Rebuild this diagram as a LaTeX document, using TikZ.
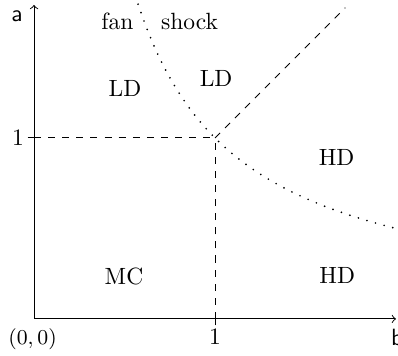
\documentclass[tikz,border=0pt]{standalone}
\begin{document}
\begin{tikzpicture}[x=77pt,y=77pt,
  lbl/.style={inner sep=0pt},
  axlbl/.style={inner sep=0pt,font=\sffamily},
  guide/.style={dashed},
  curve/.style={line width=0.8pt,line cap=round,dash pattern=on 0pt off 3.8pt}]
\useasboundingbox (-0.188,-0.204) rectangle (2.011,1.762);
% coordinates
\coordinate (O) at (0,0);
\coordinate (X) at (2.0,0);
\coordinate (Y) at (0,1.735);
\coordinate (P) at (1,1);
\coordinate (PX) at (1,0);
\coordinate (PY) at (0,1);
\coordinate (D) at (1.72,1.72);
% axes
\draw[->] (O) -- (X);
\draw[->] (O) -- (Y);
% ticks
\draw ([yshift=-2.7pt]PX) -- ([yshift=2.7pt]PX);
\draw ([xshift=-2.7pt]PY) -- ([xshift=2.7pt]PY);
% dashed guides
\draw[guide] (PY) -- (P);
\draw[guide] (PX) -- (P);
\draw[guide] (P) -- (D);
% hyperbola
\draw[curve] plot[domain=0.56:2.0,samples=120,smooth] (\x,{1/\x});
% axis labels
\node[axlbl] (la) at (-0.094,1.671) {a};
\node[axlbl,anchor=west] (lb) at (1.970,-0.102) {b};
\node[lbl] (t1x) at (1.0,-0.1) {1};
\node[lbl] (t1y) at (-0.088,1.0) {1};
\node[lbl,font=\small] (orig) at (-0.008,-0.113) {$(0,0)$};
% region labels
\node[lbl,anchor=base] (fan) at (0.461,1.597) {fan};
\node[lbl,anchor=base] (shock) at (0.859,1.597) {shock};
\node[lbl] (ld1) at (0.503,1.271) {LD};
\node[lbl] (ld2) at (1.006,1.331) {LD};
\node[lbl] (hd1) at (1.672,0.892) {HD};
\node[lbl] (mc) at (0.497,0.235) {MC};
\node[lbl] (hd2) at (1.675,0.238) {HD};
\end{tikzpicture}
\end{document}
